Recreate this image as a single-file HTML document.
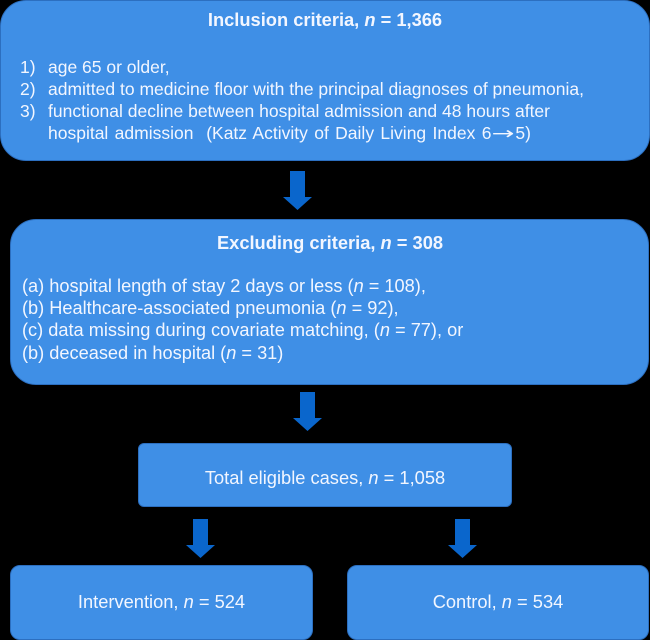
<!DOCTYPE html>
<html><head><meta charset="utf-8"><style>
body{margin:0;width:650px;height:636px;background:#000;position:relative;overflow:hidden;font-family:"Liberation Sans",sans-serif;color:#f2f6ff;}
.b{position:absolute;background:#3f8fe6;border:1px solid #2c6fc0;box-sizing:border-box;}
.t{position:absolute;white-space:nowrap;font-size:17.5px;line-height:22px;}
.c{left:0;right:0;text-align:center;}
.h{font-size:18.3px;font-weight:bold}
.m{font-size:18.3px}
.e{font-size:18.2px;line-height:22.3px}
</style></head><body>
<div class="b" style="left:0;top:0;width:650px;height:161px;border-radius:26px"></div>
<div class="t c h" style="top:9px">Inclusion criteria, <i>n</i> = 1,366</div>
<div class="t" style="left:20px;top:56px">1)</div>
<div class="t" style="left:20px;top:78px">2)</div>
<div class="t" style="left:20px;top:100px">3)</div>
<div class="t" style="left:48px;top:56px">age 65 or older,</div>
<div class="t" style="left:48px;top:78px">admitted to medicine floor with the principal diagnoses of pneumonia,</div>
<div class="t" style="left:48px;top:100px">functional decline between hospital admission and 48 hours after</div>
<div class="t" style="left:48px;top:122px;word-spacing:1.5px">hospital admission&nbsp; (Katz Activity of Daily Living Index 6<span style="display:inline-block;width:24px;text-align:center;font-family:'DejaVu Sans',sans-serif;font-size:17px;transform:scaleX(1.6)">→</span>5)</div>

<div class="b" style="left:10px;top:219px;width:639px;height:166px;border-radius:26px"></div>
<div class="t c h" style="left:10px;top:232px">Excluding criteria, <i>n</i> = 308</div>
<div class="t e" style="left:22px;top:275px">(a) hospital length of stay 2 days or less (<i>n</i> = 108),</div>
<div class="t e" style="left:22px;top:297px">(b) Healthcare-associated pneumonia (<i>n</i> = 92),</div>
<div class="t e" style="left:22px;top:319px">(c) data missing during covariate matching, (<i>n</i> = 77), or</div>
<div class="t e" style="left:22px;top:342px">(b) deceased in hospital (<i>n</i> = 31)</div>

<div class="b" style="left:138px;top:443px;width:374px;height:64px;border-radius:6px"></div>
<div class="t m" style="left:138px;width:374px;text-align:center;top:467px">Total eligible cases, <i>n</i> = 1,058</div>

<div class="b" style="left:10px;top:565px;width:303px;height:75px;border-radius:10px"></div>
<div class="t m" style="left:10px;width:303px;text-align:center;top:591px">Intervention, <i>n</i> = 524</div>
<div class="b" style="left:347px;top:565px;width:302px;height:75px;border-radius:10px"></div>
<div class="t m" style="left:347px;width:302px;text-align:center;top:591px">Control, <i>n</i> = 534</div>

<svg width="650" height="636" style="position:absolute;left:0;top:0">
<g fill="#0a66cc">
<polygon points="290,171 305,171 305,197 312,197 297.5,210 283,197 290,197"/>
<polygon points="300,392 315,392 315,418 322,418 307.5,431 293,418 300,418"/>
<polygon points="193,519 208,519 208,545 215,545 200.5,558 186,545 193,545"/>
<polygon points="455,519 470,519 470,545 477,545 462.5,558 448,545 455,545"/>
</g></svg>
</body></html>
